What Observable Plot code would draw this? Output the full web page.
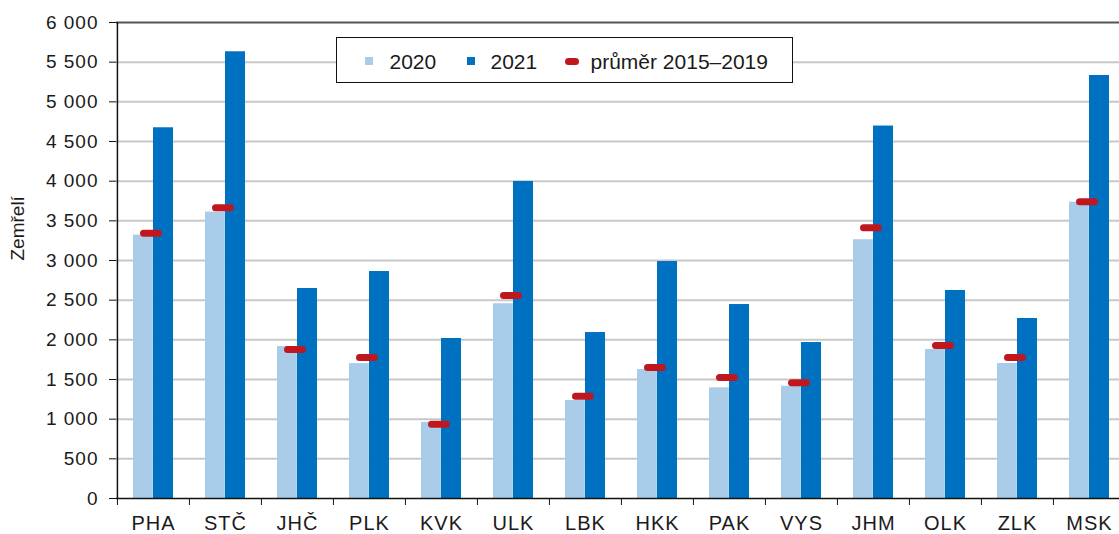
<!DOCTYPE html>
<html>
<head>
<meta charset="utf-8">
<script src="https://cdn.jsdelivr.net/npm/d3@7"></script>
<script src="https://cdn.jsdelivr.net/npm/@observablehq/plot@0.6"></script>
<style>
html, body { margin: 0; padding: 0; overflow: hidden; background: #fff; }
#wrap { position: relative; width: 1126px; height: 534px; }
#legend { position: absolute; left: 336px; top: 37px; width: 457px; height: 46px; box-sizing: border-box;
  border: 1.5px solid #111; background: #fff; font-family: "Liberation Sans", Arial, sans-serif; font-size: 21px; color: #1a1a1a; }
#legend span { position: absolute; line-height: 21px; white-space: nowrap; }
#legend .sw { width: 8px; height: 8px; top: 18.5px; }
#legend .pill { width: 14px; height: 7px; top: 19.5px; border-radius: 3.5px; }
[aria-label="x-axis tick label"] text, [aria-label="y-axis tick label"] text { letter-spacing: 1px; }
</style>
</head>
<body>
<div id="wrap">
  <div id="chart"></div>
  <div id="legend"></div>
</div>
<script>
const categories = ["PHA","STČ","JHČ","PLK","KVK","ULK","LBK","HKK","PAK","VYS","JHM","OLK","ZLK","MSK"];
const values2020 = [3320, 3610, 1915, 1700, 960, 2455, 1235, 1625, 1395, 1415, 3262, 1878, 1702, 3735];
const values2021 = [4673, 5631, 2647, 2861, 2017, 3996, 2092, 2987, 2445, 1966, 4695, 2622, 2269, 5332];
const avg2015_2019 = [3345, 3664, 1878, 1777, 937, 2559, 1290, 1651, 1525, 1458, 3412, 1929, 1777, 3740];
const yTicks = [0, 500, 1000, 1500, 2000, 2500, 3000, 3500, 4000, 4500, 5000, 5500, 6000];
const seriesNames = ["2020", "2021", "průměr 2015–2019"];
const yTitle = "Zemřelí";

const colors = {y2020: "#a9cde8", y2021: "#0070c0", avg: "#c0171e"};

const W = 1126, H = 534, ML = 116, MT = 22, MB = 36, MR = 0;
const bw = (W - ML - MR) / categories.length;
const data = categories.map((c, i) => ({c, v20: values2020[i], v21: values2021[i], avg: avg2015_2019[i]}));
const fmt = d => d3.format(",")(d).replace(/,/g, " ");

const chart = Plot.plot({
  width: W, height: H,
  marginLeft: ML, marginRight: MR, marginTop: MT, marginBottom: MB,
  style: {fontFamily: "'Liberation Sans', Arial, sans-serif", color: "#1a1a1a", background: "white", overflow: "visible"},
  x: {domain: categories, padding: 0, axis: null, label: null},
  y: {domain: [0, 6000], axis: null, label: null},
  marks: [
    Plot.gridY(yTicks.filter(d => d > 0 && d < 6000), {stroke: "#c8c8c8", strokeWidth: 2, strokeOpacity: 1}),
    Plot.ruleY([6000], {stroke: "#555", strokeWidth: 2}),
    Plot.barY(data, {x: "c", y: "v20", fill: colors.y2020, insetLeft: 16, insetRight: bw - 36}),
    Plot.barY(data, {x: "c", y: "v21", fill: colors.y2021, insetLeft: 36, insetRight: 16}),
    Plot.tickY(data, {x: "c", y: "avg", stroke: colors.avg, strokeWidth: 7, strokeLinecap: "round",
      insetLeft: 26.5, insetRight: bw - 26.5 - 15}),
    Plot.ruleY([0], {stroke: "#111", strokeWidth: 1.5}),
    Plot.ruleX([categories[0]], {x: d => d, dx: -bw / 2, stroke: "#111", strokeWidth: 1.5}),
    Plot.axisY({ticks: yTicks, tickSize: 7, tickPadding: 11, tickFormat: fmt, fontSize: 19, stroke: "#111", fill: "#1a1a1a", label: null}),
    Plot.axisX({tickSize: 7, tickFormat: () => "", dx: -bw / 2, stroke: "#111", label: null}),
    Plot.axisX({tickSize: 0, tickPadding: 17, fontSize: 20, fill: "#1a1a1a", label: null}),
    Plot.text([yTitle], {text: d => d, frameAnchor: "left", rotate: -90, dx: -99, fontSize: 19, fill: "#1a1a1a"})
  ]
});
document.getElementById("chart").appendChild(chart);

const legend = document.getElementById("legend");
const items = [
  {cls: "sw", color: colors.y2020, left: 27.5, textLeft: 52.5, label: seriesNames[0]},
  {cls: "sw", color: colors.y2021, left: 129.5, textLeft: 153.5, label: seriesNames[1]},
  {cls: "pill", color: colors.avg, left: 227.5, textLeft: 253.5, label: seriesNames[2]}
];
for (const it of items) {
  const s = document.createElement("span");
  s.className = it.cls; s.style.left = it.left + "px"; s.style.background = it.color;
  legend.appendChild(s);
  const t = document.createElement("span");
  t.textContent = it.label; t.style.left = it.textLeft + "px"; t.style.top = "13px";
  legend.appendChild(t);
}
</script>
</body>
</html>
